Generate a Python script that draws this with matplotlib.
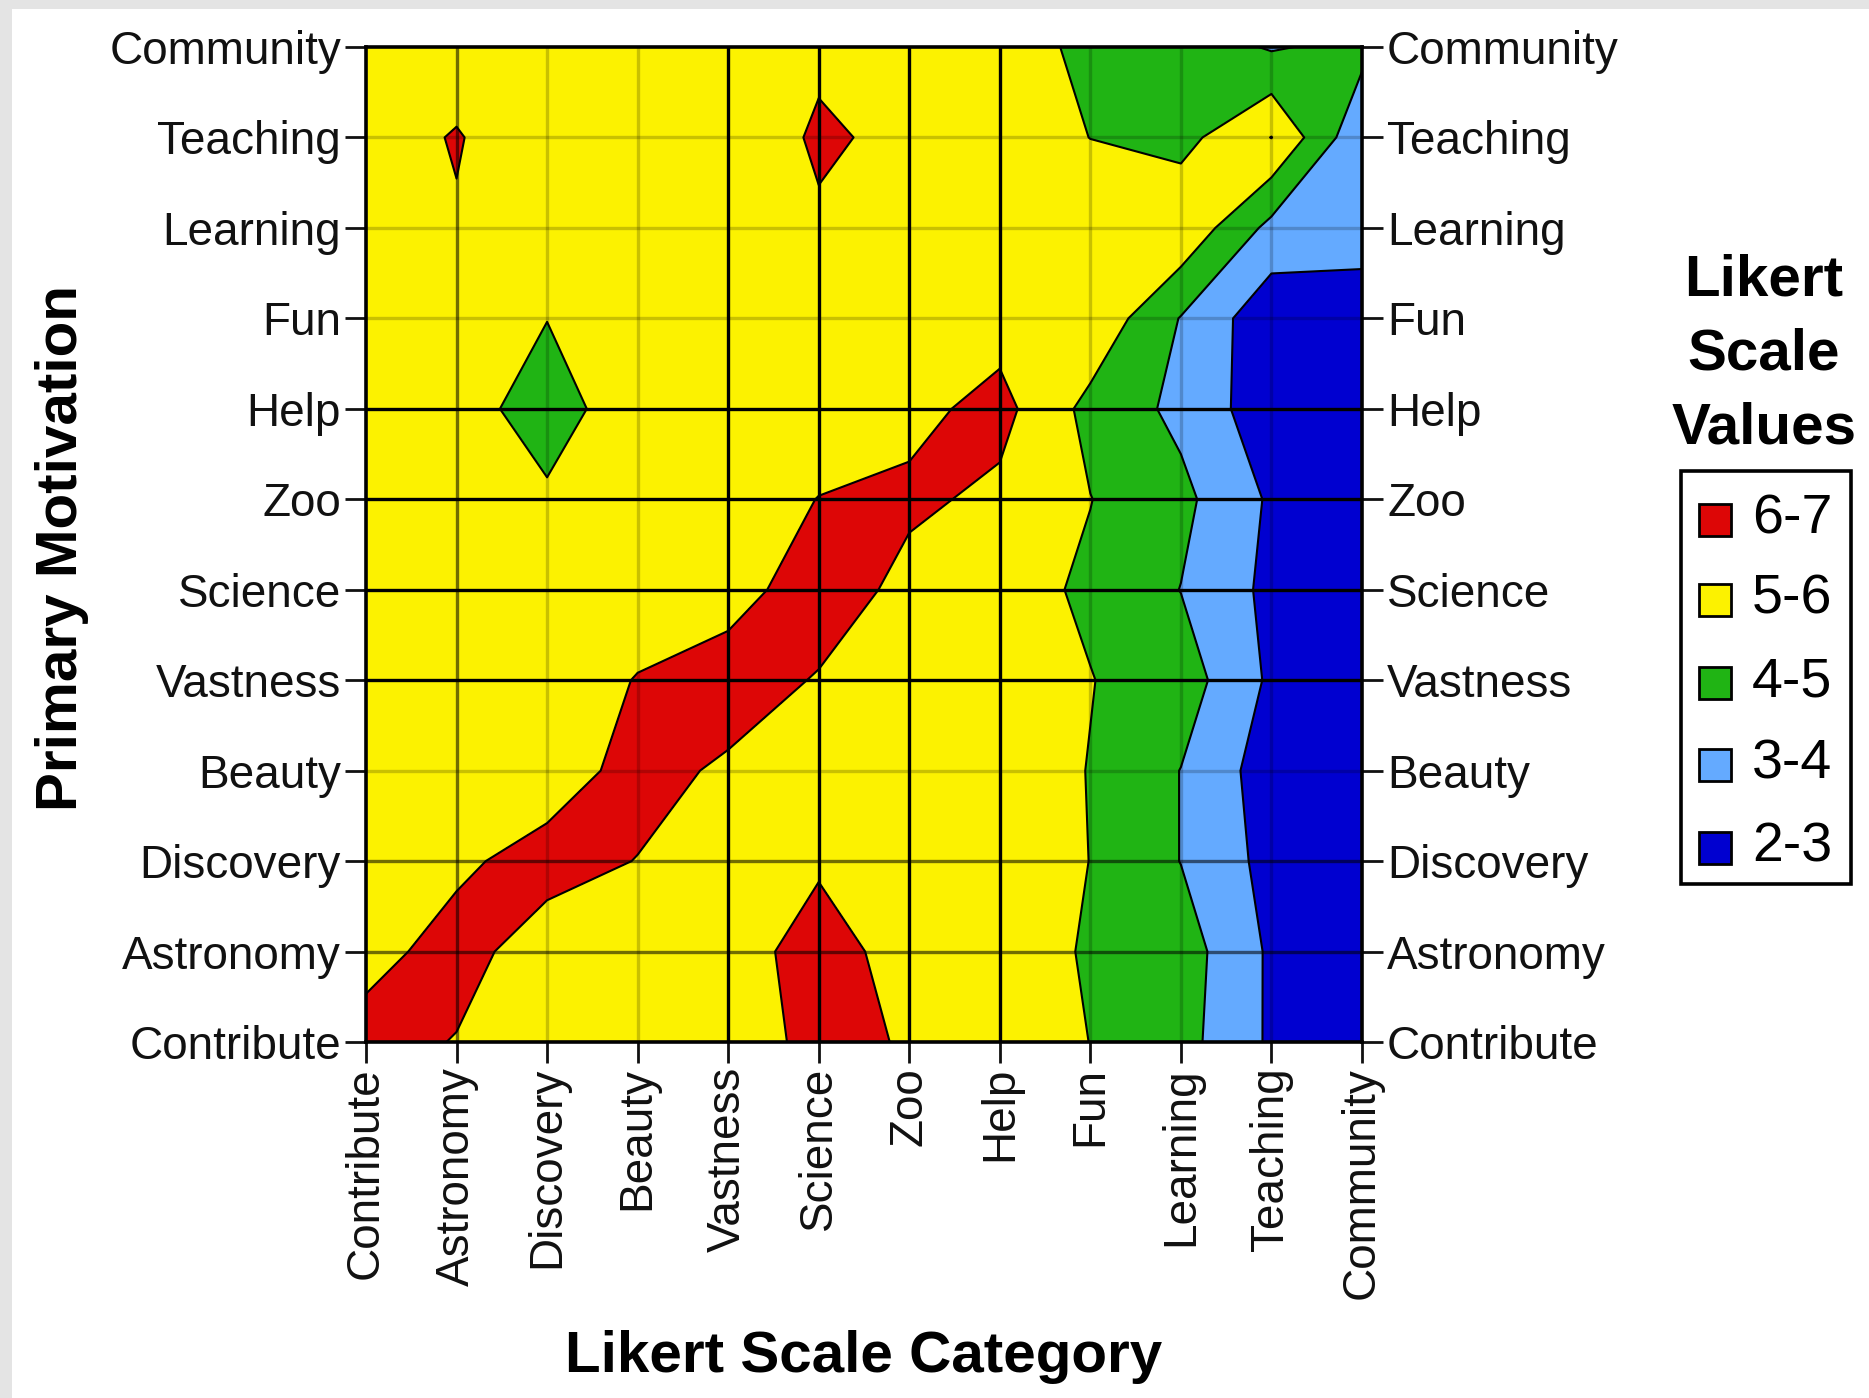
import matplotlib
matplotlib.use('Agg')
import matplotlib.pyplot as plt
import numpy as np
from matplotlib.patches import Rectangle

plt.rcParams['font.family'] = ['Liberation Sans', 'DejaVu Sans']

categories = ['Contribute', 'Astronomy', 'Discovery', 'Beauty', 'Vastness', 'Science',
              'Zoo', 'Help', 'Fun', 'Learning', 'Teaching', 'Community']
motivations = ['Contribute', 'Astronomy', 'Discovery', 'Beauty', 'Vastness', 'Science',
               'Zoo', 'Help', 'Fun', 'Learning', 'Teaching', 'Community']

# mean Likert value: one list per primary motivation (row), values per category (column)
z_contribute = [6.40, 5.95, 5.55, 5.45, 5.26, 6.40, 5.89, 5.50, 4.99, 4.36, 2.85, 2.40]
z_astronomy  = [5.65, 6.40, 5.45, 5.40, 5.57, 6.40, 5.62, 5.50, 4.90, 4.48, 2.84, 2.40]
z_discovery  = [5.50, 5.80, 6.42, 5.97, 5.50, 5.88, 5.45, 5.50, 4.99, 3.98, 2.67, 2.40]
z_beauty     = [5.40, 5.50, 5.42, 6.40, 5.82, 5.50, 5.40, 5.50, 4.97, 3.98, 2.49, 2.30]
z_vastness   = [5.45, 5.50, 5.50, 6.04, 6.60, 5.91, 5.50, 5.45, 5.03, 4.50, 2.83, 2.40]
z_science    = [5.50, 5.40, 5.45, 5.55, 5.50, 6.66, 5.66, 5.40, 4.84, 3.98, 2.75, 2.40]
z_zoo        = [5.40, 5.50, 5.16, 5.50, 5.50, 6.02, 6.20, 5.78, 5.02, 4.25, 2.86, 2.40]
z_help       = [5.50, 5.46, 4.50, 5.64, 5.50, 5.50, 5.72, 6.32, 4.70, 3.75, 2.39, 2.30]
z_fun        = [5.45, 5.50, 5.02, 5.50, 5.45, 5.50, 5.50, 5.60, 5.76, 3.95, 2.30, 2.40]
z_learning   = [5.50, 5.94, 5.50, 5.45, 5.50, 5.91, 5.50, 5.50, 5.60, 5.79, 3.71, 3.50]
z_teaching   = [5.67, 6.05, 5.49, 5.50, 5.51, 6.10, 5.84, 5.50, 4.99, 4.68, 6.02, 3.20]
z_community  = [5.50, 5.63, 5.50, 5.50, 5.50, 5.87, 5.50, 5.50, 4.75, 4.60, 3.90, 4.30]

levels = [2, 3, 4, 5, 6, 7]
level_labels = ['2-3', '3-4', '4-5', '5-6', '6-7']
level_colors = ['#0000D0', '#64AAFF', '#20B414', '#FCF200', '#DD0606']

Z = np.array([z_contribute, z_astronomy, z_discovery, z_beauty, z_vastness, z_science,
              z_zoo, z_help, z_fun, z_learning, z_teaching, z_community])
xs = np.arange(len(categories))
ys = np.arange(len(motivations))

W, H = 1869, 1398
fig = plt.figure(figsize=(W / 100, H / 100), dpi=100)
fig.patch.set_facecolor('white')

# light grey frame on left/top edges
fig.add_artist(Rectangle((0, 0), 12 / W, 1, transform=fig.transFigure, color='#e4e4e4', lw=0))
fig.add_artist(Rectangle((0, 1 - 9 / H), 1, 9 / H, transform=fig.transFigure, color='#e4e4e4', lw=0))

x0, x1, y0, y1 = 366, 1362, 47, 1042
ax = fig.add_axes([x0 / W, 1 - y1 / H, (x1 - x0) / W, (y1 - y0) / H])
ax.contourf(xs, ys, Z, levels=levels, colors=level_colors, zorder=1)
ax.contour(xs, ys, Z, levels=[3, 4, 5, 6], colors='black', linewidths=1.5, zorder=2)

strong_x = [4, 5, 6, 7]
mid_x = [1]
strong_y = [4, 5, 6, 7]
mid_y = [1, 2]
for i in xs[1:-1]:
    a = 1.0 if i in strong_x else (0.55 if i in mid_x else 0.2)
    ax.axvline(i, color='black', lw=2.4, alpha=a, zorder=3)
for j in ys[1:-1]:
    a = 1.0 if j in strong_y else (0.55 if j in mid_y else 0.2)
    ax.axhline(j, color='black', lw=2.4, alpha=a, zorder=3)

ax.set_xlim(0, 11)
ax.set_ylim(0, 11)
ax.set_xticks(xs)
ax.set_xticklabels(categories, rotation=90)
ax.set_yticks(ys)
ax.set_yticklabels(motivations)
ax.tick_params(axis='y', left=True, right=True, labelleft=True, labelright=True,
               length=15, width=2, pad=3, labelsize=33, colors='#111111')
ax.tick_params(axis='x', length=15, width=2, pad=3, labelsize=33, colors='#111111')
for s in ax.spines.values():
    s.set_linewidth(2.6)
    s.set_color('black')
    s.set_zorder(4)

fig.text(864 / W, 1 - 1357 / H, 'Likert Scale Category', ha='center', va='center',
         fontsize=42, fontweight='bold')
fig.text(62 / W, 1 - 548 / H, 'Primary Motivation', ha='center', va='center',
         fontsize=42, fontweight='bold', rotation=90)

# legend
for k, t in enumerate(['Likert', 'Scale', 'Values']):
    fig.text(1764 / W, 1 - (280 + 74 * k) / H, t, ha='center', va='center',
             fontsize=42, fontweight='bold')
fig.add_artist(Rectangle((1681 / W, 1 - 884 / H), 170 / W, 413 / H, transform=fig.transFigure,
                         fill=False, ec='black', lw=2.6))
entry_y = [520, 600, 683, 765, 848]
for k in range(len(level_labels)):
    idx = len(level_labels) - 1 - k
    yc = entry_y[k]
    fig.add_artist(Rectangle((1699 / W, 1 - (yc + 16) / H), 32 / W, 32 / H,
                             transform=fig.transFigure, fc=level_colors[idx], ec='black', lw=2))
    fig.text(1752 / W, 1 - yc / H, level_labels[idx], ha='left', va='center', fontsize=40)

fig.savefig('out.png', dpi=100, facecolor=fig.get_facecolor())
